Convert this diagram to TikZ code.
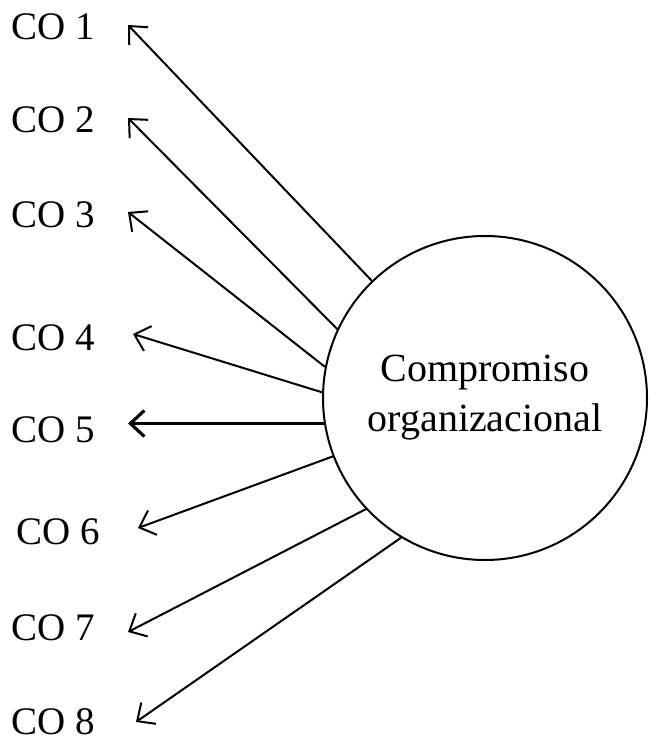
\documentclass[tikz,border=0pt]{standalone}
\usepackage{fontspec}
\setmainfont{Liberation Serif}
\usetikzlibrary{arrows.meta}
\tikzset{co label/.style={anchor=center, font=\fontsize{39}{46}\selectfont}}
\tikzset{load/.style={draw, line width=2pt, -{Straight Barb[length=14pt,width=26pt]}}}

\begin{document}
\begin{tikzpicture}[x=1pt,y=1pt]
  \useasboundingbox (0,0) rectangle (650,755);
  \node[draw, circle, line width=2pt, minimum size=324pt, align=center,
        font=\fontsize{40}{50}\selectfont] (F) at (485,357) {Compromiso\\organizacional};

  % indicators
  \foreach \i/\lx/\ly/\tx/\ty/\ang in {1/53/728/128/730/134, 2/53/635/128/637/155,
      3/53/540/128/543/169, 4/53/417/133/421/178, 6/58/223/138/227/201,
      7/53/127/128/123/223, 8/53/33/136/33/239}{
    \node[co label] (co\i) at (\lx,\ly) {CO \i};
    \coordinate (t\i) at (\tx,\ty);
    \draw[load] (F.\ang) -- (t\i);
  }
  \node[co label] (co5) at (53,325) {CO 5};
  \coordinate (t5) at (128,332);
  \draw[load, line width=3.2pt] (F.189) -- (t5 |- F.189);
\end{tikzpicture}
\end{document}
